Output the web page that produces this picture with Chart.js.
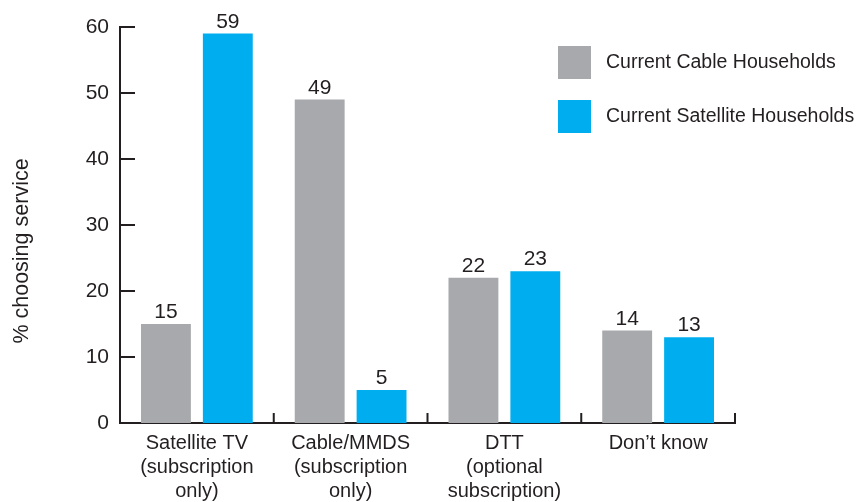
<!DOCTYPE html>
<html>
<head>
<meta charset="utf-8">
<script src="https://cdn.jsdelivr.net/npm/chart.js@4/dist/chart.umd.min.js"></script>
<style>
  html, body { margin: 0; padding: 0; background: #fff; }
  #wrap { width: 859px; height: 502px; }
</style>
</head>
<body>
<div id="wrap"><canvas id="chart" width="859" height="502"></canvas></div>
<script>
// ---- data ----
const categories = [
  ['Satellite TV', '(subscription', 'only)'],
  ['Cable/MMDS', '(subscription', 'only)'],
  ['DTT', '(optional', 'subscription)'],
  ["Don’t know"]
];
const cableHouseholds     = [15, 49, 22, 14];
const satelliteHouseholds = [59, 5, 23, 13];
const seriesNames  = ['Current Cable Households', 'Current Satellite Households'];
const seriesColors = ['#a7a9ac', '#00aeef'];
const yTicks = [0, 10, 20, 30, 40, 50, 60];

const INK  = '#231f20';
const FONT = "'Liberation Sans', Arial, Helvetica, sans-serif";

Chart.defaults.font.family = FONT;
Chart.defaults.color = INK;

// value above each bar
const barValues = {
  id: 'barValues',
  afterDatasetsDraw(chart) {
    const ctx = chart.ctx;
    ctx.save();
    ctx.font = '21px ' + FONT;
    ctx.fillStyle = INK;
    ctx.textAlign = 'center';
    ctx.textBaseline = 'alphabetic';
    chart.data.datasets.forEach((ds, i) => {
      chart.getDatasetMeta(i).data.forEach((bar, j) => {
        ctx.fillText(String(ds.data[j]), bar.x, bar.y - 6);
      });
    });
    ctx.restore();
  }
};

// short tick marks pointing into the plot
const innerTicks = {
  id: 'innerTicks',
  afterDraw(chart) {
    const { ctx, scales: { x, y } } = chart;
    ctx.save();
    ctx.strokeStyle = INK;
    ctx.lineWidth = 2;
    ctx.beginPath();
    yTicks.forEach(v => {
      if (v === 0) return;
      const py = y.getPixelForValue(v);
      ctx.moveTo(x.left, py);
      ctx.lineTo(x.left + 15, py);
    });
    const step = x.width / categories.length;
    categories.forEach((c, i) => {
      const px = x.getPixelForValue(i) + step / 2;
      ctx.moveTo(px, y.bottom + 1);
      ctx.lineTo(px, y.bottom - 10);
    });
    ctx.stroke();
    ctx.restore();
  }
};

// legend boxes in the upper right corner
const boxLegend = {
  id: 'boxLegend',
  afterDraw(chart) {
    const ctx = chart.ctx;
    ctx.save();
    ctx.font = '19.5px ' + FONT;
    ctx.textBaseline = 'middle';
    ctx.textAlign = 'left';
    chart.data.datasets.forEach((ds, i) => {
      const top = 46 + i * 54;
      ctx.fillStyle = ds.backgroundColor;
      ctx.fillRect(558, top, 33, 33);
      ctx.fillStyle = INK;
      ctx.fillText(ds.label, 606, top + 17);
    });
    ctx.restore();
  }
};

// y axis title, centred on the canvas height
const yTitle = {
  id: 'yTitle',
  afterDraw(chart) {
    const ctx = chart.ctx;
    ctx.save();
    ctx.translate(22, chart.height / 2);
    ctx.rotate(-Math.PI / 2);
    ctx.font = '21.5px ' + FONT;
    ctx.fillStyle = INK;
    ctx.textAlign = 'center';
    ctx.textBaseline = 'middle';
    ctx.fillText('% choosing service', 0, 0);
    ctx.restore();
  }
};

new Chart(document.getElementById('chart'), {
  type: 'bar',
  data: {
    labels: categories,
    datasets: [
      { label: seriesNames[0], data: cableHouseholds, backgroundColor: seriesColors[0] },
      { label: seriesNames[1], data: satelliteHouseholds, backgroundColor: seriesColors[1] }
    ]
  },
  options: {
    responsive: false,
    animation: false,
    categoryPercentage: 0.805,
    barPercentage: 0.806,
    layout: { padding: { top: 27, right: 124, bottom: 0, left: 0 } },
    plugins: {
      legend: { display: false },
      tooltip: { enabled: false }
    },
    scales: {
      x: {
        grid: { display: false, drawTicks: false },
        border: { display: true, color: INK, width: 2 },
        ticks: { font: { size: 20, lineHeight: 1.2 }, padding: 8, color: INK, maxRotation: 0 },
        afterFit(scale) { scale.height = 79; }
      },
      y: {
        min: 0,
        max: 60,
        grid: { display: false, drawTicks: false },
        border: { display: true, color: INK, width: 2 },
        ticks: { stepSize: 10, font: { size: 21 }, padding: 11, color: INK },
        afterFit(scale) { scale.width = 120; }
      }
    }
  },
  plugins: [barValues, innerTicks, boxLegend, yTitle]
});
</script>
</body>
</html>
